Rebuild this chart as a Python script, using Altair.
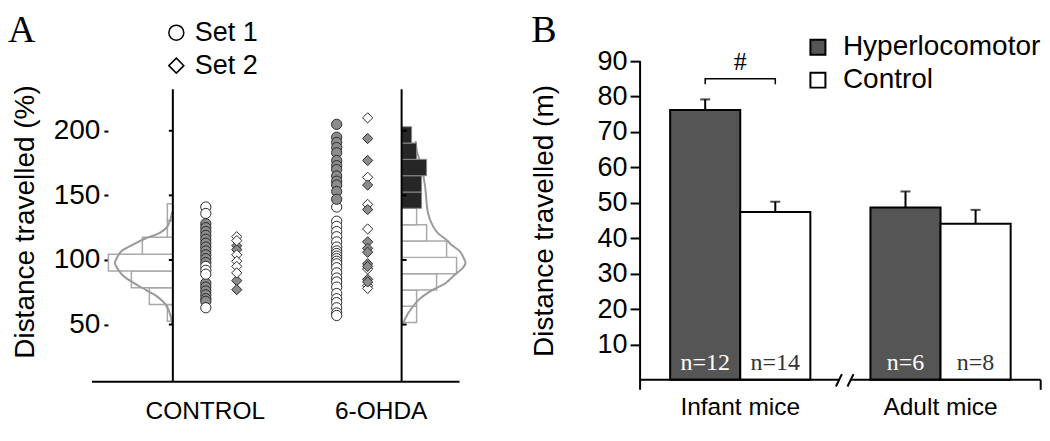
import altair as alt
import pandas as pd

# ======================= Panel A : distance travelled (%) =======================
a_groups = ["CONTROL", "6-OHDA"]
a_sets = ["Set 1", "Set 2"]
a_y_ticks = [50, 100, 150, 200]

ctrl_set1_hyper = [128, 125, 122, 119, 116, 113, 110, 107, 104, 101, 98, 82, 79, 76, 73, 70, 68]
ctrl_set1_normal = [141, 136, 95, 92, 89, 63]
ctrl_set2_hyper = [111, 108, 84, 77]
ctrl_set2_normal = [118, 115, 104, 99, 95, 90]
ohda_set1_hyper = [205, 195, 191, 187, 183, 177, 173, 170, 165, 161, 158, 153, 147]
ohda_set1_normal = [141, 130, 126, 122, 118, 114, 110, 107, 105, 103, 101, 99, 97, 94,
                    90, 86, 83, 79, 74, 70, 67, 63, 59, 57]
ohda_set2_hyper = [194, 177, 158, 139, 114, 109, 106, 97, 95, 85, 83]
ohda_set2_normal = [210, 164, 143, 124, 93, 80, 78]

# histograms (bin edges, frequencies) and fitted curves
ctrl_hist_edges = [52.5, 65.5, 78.5, 91.5, 104.5, 117.5, 130.5, 143.5]
ctrl_hist_freq = [1.1, 4.7, 8.3, 12.9, 6.1, 1.1, 1.1]
ohda_hist_edges = [51.5, 64.1, 76.8, 89.4, 102.0, 114.7, 127.3, 140.0, 152.6, 165.2, 177.9, 190.5, 203.1]
ohda_hist_freq = [3, 3, 7, 11, 9, 5, 3, 4, 4, 5, 3, 2]
hyper_threshold = 140

ctrl_fit_y = [137.4, 125.8, 120.6, 116.8, 111.6, 106.4, 100, 97.7, 94.8, 88.4, 82.8, 76.8, 71.6, 65.2, 57.5, 49.7]
ctrl_fit_freq = [0.1, 1.1, 2.8, 5.4, 8.1, 10.4, 11.4, 11.6, 11.3, 10.1, 8.1, 5.4, 3.1, 1.4, 0.5, 0.1]
ohda_fit_y = [192, 185, 172, 157, 136, 126, 121, 115.5, 111.6, 106.4, 100, 97.5, 93.6, 88.4, 82, 76.8, 69.1, 58.8, 51]
ohda_fit_freq = [2.8, 3.0, 4.0, 4.7, 5.3, 6.3, 7.2, 9.0, 10.0, 11.7, 12.6, 12.8, 12.2, 10.6, 8.8, 6.2, 3.4, 1.3, 0.3]

# ======================= Panel B : distance travelled (m) =======================
b_groups = ["Infant mice", "Adult mice"]
b_series = ["Hyperlocomotor", "Control"]
hyper_mean = [76.2, 48.7]
hyper_sem = [3.0, 4.5]
hyper_n = [12, 6]
control_mean = [47.4, 44.1]
control_sem = [2.9, 3.9]
control_n = [14, 8]
b_y_ticks = [10, 20, 30, 40, 50, 60, 70, 80, 90]
sig_label = "#"
sig_bracket_y = 85.0
sig_leg_y = 83.5

# ---------------------------- layout (panel A) ----------------------------------
WA, HA = 368, 321
Y_MIN, Y_MAX = 5.65, 253.9
LINE_TOP = 232.2
LINE_L, LINE_R = 81, 310
HIST_UNIT = 5
COL_POS = {("CONTROL", "Set 1"): 114, ("CONTROL", "Set 2"): 145,
           ("6-OHDA", "Set 1"): 245, ("6-OHDA", "Set 2"): 276}
LABEL_POS = {"CONTROL": 113, "6-OHDA": 289}
WB, HB = 401, 319
LETTER_BASE = -19

SANS = "Liberation Sans"
SERIF = "Liberation Serif"
NO_FRAME = alt.ViewBackground(stroke=None)

# ---------------------------- tables (panel A) ----------------------------------
pts = []
for grp, st, cls, vals in [
    ("CONTROL", "Set 1", "hyper", ctrl_set1_hyper), ("CONTROL", "Set 1", "normal", ctrl_set1_normal),
    ("CONTROL", "Set 2", "hyper", ctrl_set2_hyper), ("CONTROL", "Set 2", "normal", ctrl_set2_normal),
    ("6-OHDA", "Set 1", "normal", ohda_set1_normal), ("6-OHDA", "Set 1", "hyper", ohda_set1_hyper),
    ("6-OHDA", "Set 2", "normal", ohda_set2_normal), ("6-OHDA", "Set 2", "hyper", ohda_set2_hyper),
]:
    for v in vals:
        pts.append(dict(group=grp, set=st, cls=cls, y=v, x=COL_POS[(grp, st)]))
pts = pd.DataFrame(pts)

hist = []
for i, f in enumerate(ctrl_hist_freq):
    hist.append(dict(group="CONTROL", y=ctrl_hist_edges[i], y2=ctrl_hist_edges[i + 1],
                     x=LINE_L - f * HIST_UNIT, x2=LINE_L))
for i, f in enumerate(ohda_hist_freq):
    hist.append(dict(group="6-OHDA", y=ohda_hist_edges[i], y2=ohda_hist_edges[i + 1],
                     x=LINE_R, x2=LINE_R + f * HIST_UNIT))
hist = pd.DataFrame(hist)
hist["dark"] = (hist["group"] == "6-OHDA") & (hist["y"] >= hyper_threshold)

fit = []
for i, (yv, f) in enumerate(zip(ctrl_fit_y, ctrl_fit_freq)):
    fit.append(dict(group="CONTROL", i=i, y=yv, x=LINE_L - f * HIST_UNIT))
for i, (yv, f) in enumerate(zip(ohda_fit_y, ohda_fit_freq)):
    fit.append(dict(group="6-OHDA", i=i, y=yv, x=LINE_R + f * HIST_UNIT))
fit = pd.DataFrame(fit)

frame_v = pd.DataFrame([dict(x=LINE_L, y=Y_MIN, y2=LINE_TOP), dict(x=LINE_R, y=Y_MIN, y2=LINE_TOP)])
frame_h = pd.DataFrame([dict(x=0, x2=WA, y=Y_MIN)])
ticks = []
for t in a_y_ticks:
    ticks.append(dict(x=LINE_L - 4, x2=LINE_L, y=t))
    ticks.append(dict(x=LINE_R, x2=LINE_R + 5, y=t))
ticks = pd.DataFrame(ticks)

XS_A = alt.Scale(domain=[0, WA], nice=False, zero=False)
YS_A = alt.Scale(domain=[Y_MIN, Y_MAX], nice=False, zero=False)
XAX_A = alt.Axis(values=[LABEL_POS[g] for g in a_groups],
                 labelExpr=f"datum.value == {LABEL_POS['CONTROL']} ? 'CONTROL' : '6-OHDA'",
                 ticks=False, domain=False, grid=False, title=None, labelFontSize=24.5,
                 labelFont=SANS, labelColor="black", labelPadding=18)
YAX_A = alt.Axis(values=a_y_ticks, offset=-16, domain=False, grid=False, tickSize=4, tickWidth=2,
                 tickColor="black", labelFontSize=28, labelFont=SANS, labelColor="black",
                 labelPadding=4, title="Distance travelled (%)", titleFontSize=28, titleFont=SANS,
                 titleFontWeight="normal", titleColor="black", titleX=-82, titleBaseline="middle")


def XA(f="x"):
    return alt.X(f"{f}:Q", scale=XS_A, axis=XAX_A)


def YA(f="y"):
    return alt.Y(f"{f}:Q", scale=YS_A, axis=YAX_A)


hist_light = alt.Chart(hist).transform_filter("!datum.dark").mark_rect(
    fill="white", stroke="#a9a9a9", strokeWidth=1.5).encode(x=XA(), x2="x2:Q", y=YA(), y2="y2:Q")
fit_lines = alt.Chart(fit).mark_line(color="#9a9a9a", strokeWidth=2, interpolate="catmull-rom").encode(
    x=XA(), y=YA(), detail="group:N", order="i:Q")
hist_dark = alt.Chart(hist).transform_filter("datum.dark").mark_rect(
    fill="#262626", stroke="#8a8a8a", strokeWidth=1).encode(x=XA(), x2="x2:Q", y=YA(), y2="y2:Q")
vlines = alt.Chart(frame_v).mark_rule(color="black", strokeWidth=2).encode(x=XA(), y=YA(), y2="y2:Q")
hline = alt.Chart(frame_h).mark_rule(color="black", strokeWidth=2).encode(x=XA(), x2="x2:Q", y=YA())
tick_rules = alt.Chart(ticks).mark_rule(color="black", strokeWidth=2).encode(x=XA(), x2="x2:Q", y=YA())
points = alt.Chart(pts).mark_point(filled=True, stroke="#2b2b2b", strokeWidth=1, opacity=1, size=105).encode(
    x=XA(), y=YA(),
    shape=alt.Shape("set:N", scale=alt.Scale(domain=a_sets, range=["circle", "diamond"]),
                    legend=alt.Legend(orient="none", legendX=71, legendY=-42, title=None,
                                      symbolSize=225, symbolFillColor="white",
                                      symbolStrokeColor="black", symbolStrokeWidth=1.5,
                                      labelFontSize=27, labelFont=SANS, labelColor="black",
                                      labelOffset=5, rowPadding=5)),
    fill=alt.Fill("cls:N", scale=alt.Scale(domain=["hyper", "normal"], range=["#8c8c8c", "white"]),
                  legend=None),
)
letter_a = alt.Chart(pd.DataFrame({"t": ["A"]})).mark_text(
    font=SERIF, fontSize=38, align="left", baseline="alphabetic", color="black").encode(
    text="t:N", x=alt.value(-84), y=alt.value(LETTER_BASE))

panel_a = alt.layer(hist_light, fit_lines, hist_dark, vlines, hline, tick_rules, points, letter_a).properties(
    width=WA, height=HA, view=NO_FRAME)

# ---------------------------- tables (panel B) ----------------------------------
bars = []
for gi, g in enumerate(b_groups):
    bars.append(dict(group=g, series="Hyperlocomotor", mean=hyper_mean[gi],
                     top=hyper_mean[gi] + hyper_sem[gi], n=f"n={hyper_n[gi]}", zero=0))
    bars.append(dict(group=g, series="Control", mean=control_mean[gi],
                     top=control_mean[gi] + control_sem[gi], n=f"n={control_n[gi]}", zero=0))
bars = pd.DataFrame(bars)
bracket = pd.DataFrame([
    dict(group=b_groups[0], series=b_series[0], y=sig_leg_y, i=0),
    dict(group=b_groups[0], series=b_series[0], y=sig_bracket_y, i=1),
    dict(group=b_groups[0], series=b_series[1], y=sig_bracket_y, i=2),
    dict(group=b_groups[0], series=b_series[1], y=sig_leg_y, i=3),
])
sig = pd.DataFrame([dict(group=b_groups[0], y=sig_bracket_y, t=sig_label)])

XS_B = alt.Scale(domain=b_groups, paddingInner=0.3, paddingOuter=0.15)
XOS_B = alt.Scale(domain=b_series, paddingInner=0, paddingOuter=0)
YS_B = alt.Scale(domain=[0, 90], nice=False, zero=True)
XAX_B = alt.Axis(ticks=False, domain=False, grid=False, title=None, labelFontSize=24.5, labelFont=SANS,
                 labelColor="black", labelPadding=16, labelAngle=0)
YAX_B = alt.Axis(values=b_y_ticks, domain=False, grid=False, tickSize=10, tickWidth=2, tickColor="black",
                 labelFontSize=27, labelFont=SANS, labelColor="black", labelPadding=3,
                 title="Distance travelled (m)", titleFontSize=28, titleFont=SANS,
                 titleFontWeight="normal", titleColor="black", titleX=-96, titleBaseline="middle")


def XB():
    return alt.X("group:N", scale=XS_B, axis=XAX_B, sort=b_groups)


def XOB():
    return alt.XOffset("series:N", scale=XOS_B, sort=b_series)


def YB(f):
    return alt.Y(f"{f}:Q", scale=YS_B, axis=YAX_B)


bar_layer = alt.Chart(bars).mark_bar(stroke="black", strokeWidth=2).encode(
    x=XB(), xOffset=XOB(), y=YB("mean"),
    fill=alt.Fill("series:N", scale=alt.Scale(domain=b_series, range=["#555555", "white"]),
                  legend=alt.Legend(orient="none", legendX=164, legendY=-28, title=None,
                                    symbolType="square", symbolSize=225, symbolStrokeColor="black",
                                    symbolStrokeWidth=2, labelFontSize=28, labelFont=SANS,
                                    labelColor="black", labelOffset=11, labelLimit=400,
                                    rowPadding=5)),
)
err_layer = alt.Chart(bars).mark_rule(color="black", strokeWidth=2).encode(
    x=XB(), xOffset=XOB(), y=YB("mean"), y2="top:Q")
cap_layer = alt.Chart(bars).mark_tick(color="black", thickness=2, size=10, orient="horizontal").encode(
    x=XB(), xOffset=XOB(), y=YB("top"))
n_layer = alt.Chart(bars).mark_text(font=SERIF, fontSize=24, baseline="middle", dy=-17).encode(
    x=XB(), xOffset=XOB(), y=YB("zero"), text="n:N",
    color=alt.condition(alt.datum.series == "Hyperlocomotor", alt.value("white"), alt.value("#333333")))
bracket_layer = alt.Chart(bracket).mark_line(color="black", strokeWidth=1.5).encode(
    x=XB(), xOffset=XOB(), y=YB("y"), order="i:Q")
sig_layer = alt.Chart(sig).mark_text(font=SERIF, fontSize=26, baseline="middle", dy=-17, color="black").encode(
    x=XB(), y=YB("y"), text="t:N")


def vrule(x, x2, y, y2):
    return alt.Chart(pd.DataFrame({"k": [0]})).mark_rule(color="black", strokeWidth=2).encode(
        x=alt.value(x), x2=alt.value(x2), y=alt.value(y), y2=alt.value(y2))


frame_b = [
    vrule(0, 0, 0, HB + 10),
    vrule(0, 199, HB, HB),
    vrule(211, WB, HB, HB),
    vrule(WB, WB, HB, HB + 10),
    vrule(196, 202, HB + 6.7, HB - 5.7),
    vrule(207.6, 213.6, HB + 6.7, HB - 5.7),
]
letter_b = alt.Chart(pd.DataFrame({"t": ["B"]})).mark_text(
    font=SERIF, fontSize=38, align="left", baseline="alphabetic", color="black").encode(
    text="t:N", x=alt.value(-109), y=alt.value(LETTER_BASE))

panel_b = alt.layer(bar_layer, err_layer, cap_layer, n_layer, bracket_layer, sig_layer, *frame_b,
                    letter_b).properties(width=WB, height=HB, view=NO_FRAME)

chart = alt.hconcat(panel_a, panel_b, spacing=180.7, bounds="flush").resolve_scale(
    fill="independent", shape="independent", color="independent"
).properties(padding={"top": 4, "left": 0, "right": 0, "bottom": 0}).configure_view(stroke=None)

chart.save("out.html", embed_options={"renderer": "svg", "actions": False})
